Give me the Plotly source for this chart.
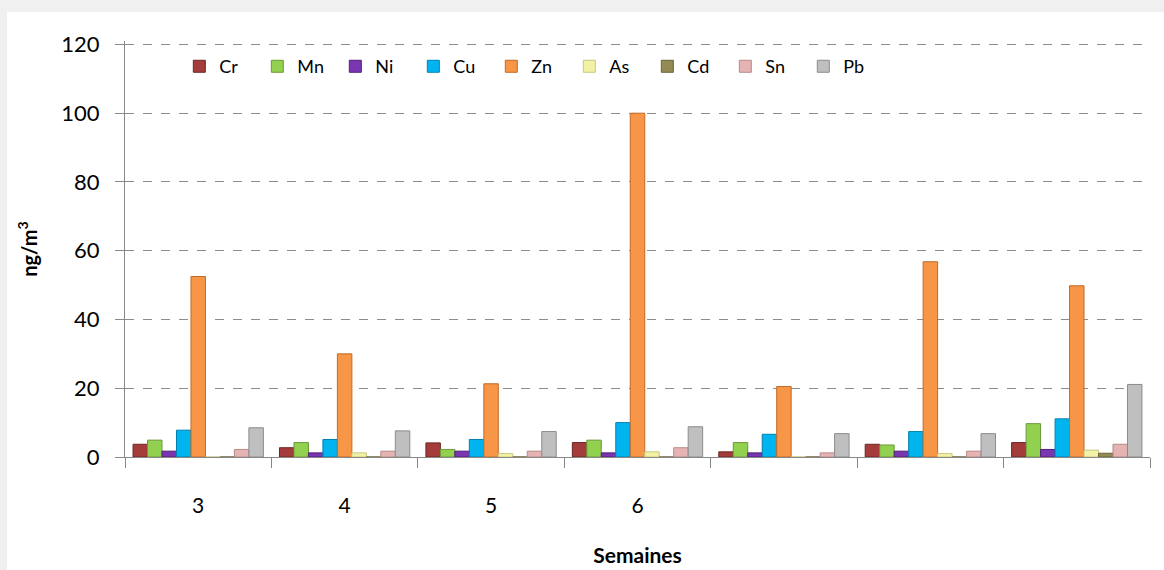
import plotly.graph_objects as go

categories = ["3", "4", "5", "6", "7", "8", "9"]
tick_labels = ["3", "4", "5", "6", "", "", ""]

series_names = ["Cr", "Mn", "Ni", "Cu", "Zn", "As", "Cd", "Sn", "Pb"]
Cr = [3.7, 2.7, 4.1, 4.2, 1.5, 3.7, 4.2]
Mn = [4.9, 4.2, 2.2, 4.9, 4.2, 3.5, 9.7]
Ni = [1.7, 1.2, 1.7, 1.2, 1.2, 1.7, 2.2]
Cu = [7.8, 5.1, 5.1, 10.0, 6.6, 7.4, 11.1]
Zn = [52.5, 30.0, 21.3, 100.0, 20.5, 56.8, 49.8]
As = [0.0, 1.2, 1.0, 1.5, 0.0, 1.0, 2.0]
Cd = [0.0, 0.0, 0.0, 0.0, 0.0, 0.0, 1.1]
Sn = [2.2, 1.7, 1.7, 2.7, 1.2, 1.7, 3.7]
Pb = [8.5, 7.6, 7.4, 8.8, 6.8, 6.8, 21.1]
series_values = [Cr, Mn, Ni, Cu, Zn, As, Cd, Sn, Pb]

colors = ["#a33c3a", "#92d050", "#7a35b0", "#00b4f0", "#f79646",
          "#f2f2a6", "#948a54", "#e6b3b3", "#bfbfbf"]
edge_colors = ["#6e2624", "#6a9a3a", "#522078", "#0080b0", "#c06a28",
               "#c8c880", "#6b6338", "#b88a8a", "#8c8c8c"]

fig = go.Figure()
for name, vals, c, e in zip(series_names, series_values, colors, edge_colors):
    fig.add_trace(go.Bar(
        x=categories, y=vals, name=name,
        marker=dict(color=c, line=dict(color=e, width=1)),
    ))

FONT = "Lato, Open Sans, sans-serif"

L, R, T, B = 125, 14, 41, 113
PW, PH = 1164 - L - R, 570 - T - B

# gray outer frame with white panel
fig.add_shape(type="rect", xref="paper", yref="paper",
              x0=(7 - L) / PW, x1=(1170 - L) / PW,
              y0=((570 - B) - 575) / PH, y1=((570 - B) - 12) / PH,
              fillcolor="white", line=dict(width=0), layer="below")

fig.update_layout(
    width=1164, height=570,
    margin=dict(l=L, r=R, t=T, b=B, autoexpand=False),
    paper_bgcolor="#f0f0f0",
    plot_bgcolor="rgba(0,0,0,0)",
    barmode="group",
    bargap=0.11,
    bargroupgap=0,
    font=dict(family=FONT, size=18, color="#000000"),
    showlegend=True,
    legend=dict(
        orientation="h", x=0.053, y=0.983, xanchor="left", yanchor="top",
        bgcolor="rgba(0,0,0,0)", font=dict(size=18, family=FONT),
        entrywidth=33, entrywidthmode="pixels", itemwidth=30,
        traceorder="normal",
    ),
    xaxis=dict(
        type="category", automargin=False,
        tickvals=categories, ticktext=tick_labels,
        tickson="boundaries", ticks="outside", ticklen=10, tickcolor="#888888",
        showline=True, linecolor="#888888", linewidth=1,
        showgrid=False,
        tickfont=dict(size=21, family=FONT),
        ticklabelstandoff=30,
        title=dict(text="<b>Semaines</b>", font=dict(size=21, family=FONT), standoff=32),
    ),
    yaxis=dict(
        range=[0, 121], tickvals=[0, 20, 40, 60, 80, 100, 120], automargin=False,
        ticks="outside", ticklen=9, tickcolor="#888888",
        showline=True, linecolor="#888888", linewidth=1,
        showgrid=True, gridcolor="#8c8c8c", griddash="dash", gridwidth=1,
        zeroline=False,
        tickfont=dict(size=22, family=FONT),
        ticklabelstandoff=11,
        title=dict(text="<b>ng/m<sup>3</sup></b>", font=dict(size=20, family=FONT), standoff=18),
    ),
)

fig.write_html("out.html", config={"displayModeBar": False},
               post_script="document.body.style.margin='0px';")
